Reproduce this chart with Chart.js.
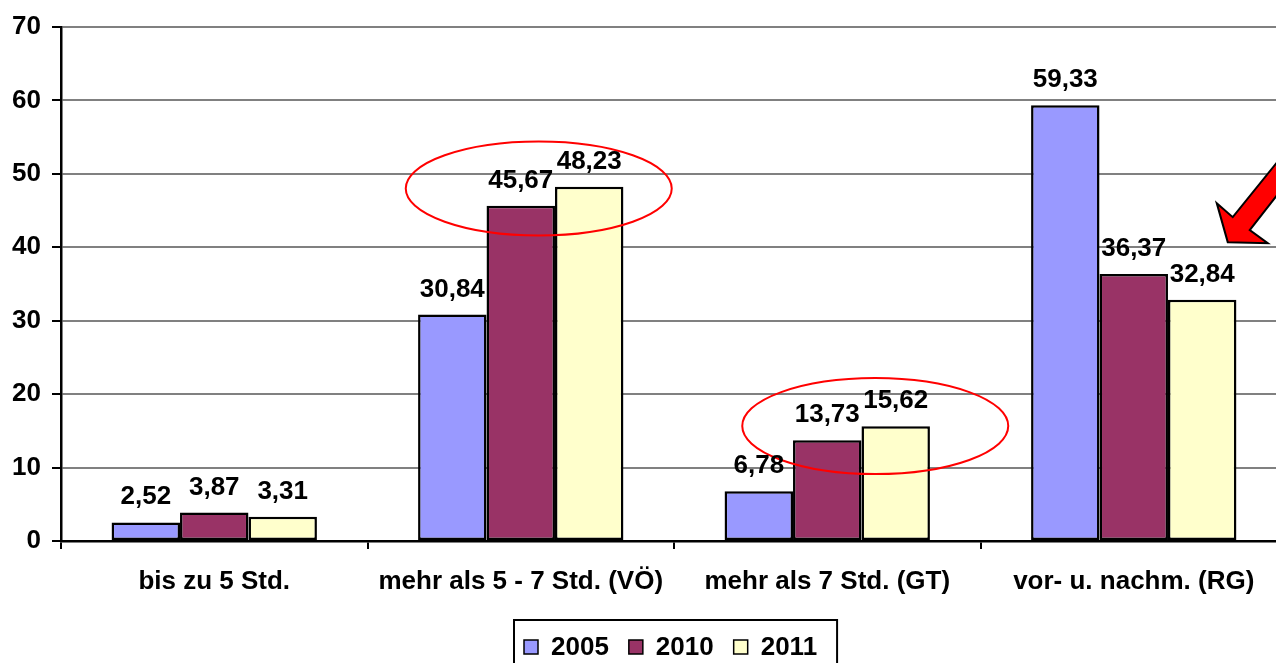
<!DOCTYPE html>
<html>
<head>
<meta charset="utf-8">
<script src="https://cdn.jsdelivr.net/npm/chart.js@4/dist/chart.umd.min.js"></script>
<style>
  html, body { margin: 0; padding: 0; background: #fff; overflow: hidden; }
  #wrap { width: 1290px; height: 663px; }
</style>
</head>
<body>
<div id="wrap"><canvas id="myChart" width="1290" height="663"></canvas></div>
<script>
var categories = ['bis zu 5 Std.', 'mehr als 5 - 7 Std. (VÖ)', 'mehr als 7 Std. (GT)', 'vor- u. nachm. (RG)'];
var years = ['2005', '2010', '2011'];
var values2005 = [2.52, 30.84, 6.78, 59.33];
var values2010 = [3.87, 45.67, 13.73, 36.37];
var values2011 = [3.31, 48.23, 15.62, 32.84];
var yTicks = [0, 10, 20, 30, 40, 50, 60, 70];
var barColors = ['#9999FF', '#993366', '#FFFFCC'];

var FONT = '"Liberation Sans", Arial, sans-serif';

function fmt(v) {
    return v.toFixed(2).replace('.', ',');
}

// labels over the bars, red ellipses and arrow, legend with frame
var extras = {
    id: 'extras',
    afterDatasetsDraw: function (chart) {
        var ctx = chart.ctx;
        var x = chart.scales.x, y = chart.scales.y;
        ctx.save();

        // ellipses
        ctx.strokeStyle = '#FF0000';
        ctx.lineWidth = 2;
        ctx.beginPath();
        ctx.ellipse(x.getPixelForValue(1) + 18, y.getPixelForValue(48.0), 133, 47, 0, 0, Math.PI * 2);
        ctx.stroke();
        ctx.beginPath();
        ctx.ellipse(x.getPixelForValue(2) + 48, y.getPixelForValue(15.66), 133, 48, 0, 0, Math.PI * 2);
        ctx.stroke();

        // arrow
        var tx = x.getPixelForValue(3) + 94, ty = y.getPixelForValue(40.7);
        var pts = [[0, 0], [40, 1], [22, -12], [72, -76], [72, -108], [5, -25], [-11, -39]];
        ctx.beginPath();
        ctx.moveTo(tx + pts[0][0], ty + pts[0][1]);
        for (var i = 1; i < pts.length; i++) ctx.lineTo(tx + pts[i][0], ty + pts[i][1]);
        ctx.closePath();
        ctx.fillStyle = '#FF0000';
        ctx.fill();
        ctx.strokeStyle = '#000';
        ctx.lineWidth = 2;
        ctx.lineJoin = 'miter';
        ctx.stroke();

        // value labels
        ctx.font = 'bold 26px ' + FONT;
        ctx.fillStyle = '#000';
        ctx.textAlign = 'center';
        ctx.textBaseline = 'alphabetic';
        chart.data.datasets.forEach(function (ds, di) {
            var meta = chart.getDatasetMeta(di);
            meta.data.forEach(function (bar, i) {
                ctx.fillText(fmt(ds.data[i]), bar.x, bar.y - 18);
            });
        });

        // legend
        var items = chart.data.datasets.map(function (ds) {
            return { text: ds.label, color: ds.backgroundColor, w: ctx.measureText(ds.label).width };
        });
        var sq = 14, gap = 13, itemGap = 20, padL = 10, padR = 20;
        var total = padL + padR;
        items.forEach(function (it, i) { total += sq + gap + it.w + (i > 0 ? itemGap : 0); });
        var cx = (chart.chartArea.left + chart.chartArea.right) / 2 + 2;
        var left = Math.round(cx - total / 2);
        var top = 620;
        ctx.strokeStyle = '#000';
        ctx.lineWidth = 2;
        ctx.strokeRect(left, top, total, 60);
        var px = left + padL;
        ctx.textAlign = 'left';
        items.forEach(function (it) {
            ctx.fillStyle = it.color;
            ctx.fillRect(px, 640, sq, sq);
            ctx.strokeStyle = '#000';
            ctx.lineWidth = 1.5;
            ctx.strokeRect(px, 640, sq, sq);
            ctx.fillStyle = '#000';
            ctx.fillText(it.text, px + sq + gap, 655);
            px += sq + gap + it.w + itemGap;
        });
        ctx.restore();
    }
};

var ctx = document.getElementById('myChart').getContext('2d');
var myChart = new Chart(ctx, {
    type: 'bar',
    data: {
        labels: categories,
        datasets: [
            { label: years[0], data: values2005, backgroundColor: barColors[0] },
            { label: years[1], data: values2010, backgroundColor: barColors[1] },
            { label: years[2], data: values2011, backgroundColor: barColors[2] }
        ]
    },
    options: {
        responsive: false,
        devicePixelRatio: 1,
        animation: false,
        layout: { padding: { top: 27, right: 3, bottom: 43, left: 0 } },
        datasets: {
            bar: {
                categoryPercentage: 0.67,
                barPercentage: 1.0,
                borderColor: '#000',
                borderWidth: 2.5,
                borderSkipped: false
            }
        },
        plugins: {
            legend: { display: false },
            tooltip: { enabled: false }
        },
        scales: {
            x: {
                grid: {
                    drawOnChartArea: false,
                    offset: true,
                    tickLength: 8,
                    color: '#000',
                    lineWidth: 2
                },
                border: { color: '#000', width: 2.5 },
                ticks: {
                    color: '#000',
                    padding: 17,
                    maxRotation: 0,
                    autoSkip: false,
                    font: { family: FONT, size: 26, weight: 'bold' }
                },
                afterFit: function (s) { s.height = 79; }
            },
            y: {
                min: 0,
                max: 70,
                afterBuildTicks: function (s) {
                    s.ticks = yTicks.map(function (v) { return { value: v }; });
                },
                grid: {
                    color: '#808080',
                    lineWidth: 2,
                    tickLength: 9,
                    tickColor: '#000'
                },
                border: { color: '#000', width: 2.5 },
                ticks: {
                    color: '#000',
                    padding: 11,
                    font: { family: FONT, size: 26, weight: 'bold' }
                },
                afterFit: function (s) { s.width = 61; }
            }
        }
    },
    plugins: [extras]
});
</script>
</body>
</html>
